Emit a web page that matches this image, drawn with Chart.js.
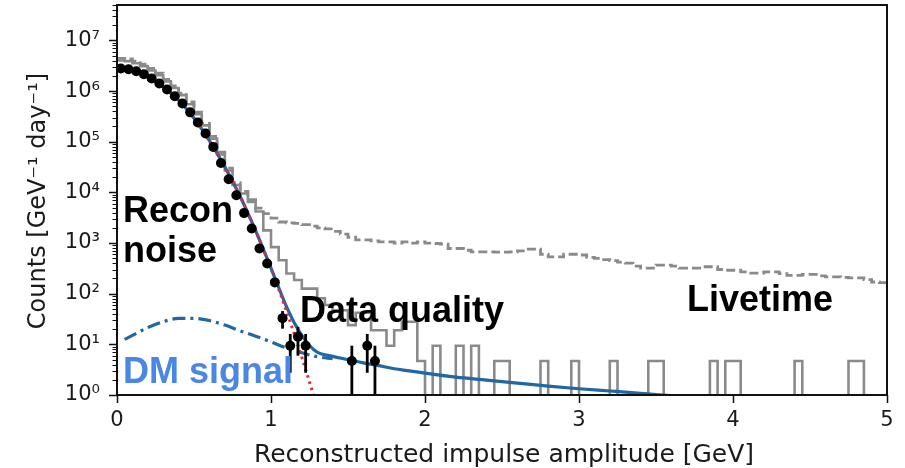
<!DOCTYPE html>
<html>
<head>
<meta charset="utf-8">
<script src="https://cdn.jsdelivr.net/npm/chart.js@4.4.1/dist/chart.umd.min.js"></script>
<style>
  html, body { margin: 0; padding: 0; background: #fff; }
</style>
</head>
<body>
<canvas id="chart" width="905" height="468"></canvas>
<script>
// Histograms use 0.05 GeV bins starting at 0; counts are per GeV per day.
const BIN_WIDTH = 0.05;
const BELOW_AXIS = 0.1; // empty bins drop below the 10^0 floor

// Livetime cut (dashed grey), 100 bins from 0 to 5 GeV
const livetimeHist = [
  4.4e6, 4.3e6, 3.9e6, 3.4e6, 2.8e6, 2.25e6, 1.7e6, 1.27e6, 9.1e5, 6.1e5,
  3.85e5, 2.3e5, 1.27e5, 6.2e4, 3.0e4, 1.55e4, 1.05e4, 7.2e3, 4900, 3800,
  3100, 2600, 2500, 2450, 2300, 2150, 2000, 1900, 1700, 1500,
  1300, 1150, 1150, 1100, 1050, 1050, 1000, 1050, 1000, 1050,
  1000, 980, 950, 780, 780, 720, 670, 670, 670, 660,
  660, 670, 700, 760, 760, 600, 535, 535, 600, 600,
  580, 520, 500, 470, 450, 420, 400, 350, 320, 320,
  365, 365, 350, 320, 320, 320, 340, 340, 300, 290,
  290, 270, 255, 255, 270, 270, 250, 230, 230, 240,
  240, 225, 215, 215, 210, 205, 205, 190, 170, 165
];

// Data quality cut (solid grey), 100 bins from 0 to 5 GeV
const dataQualityHist = [
  4.0e6, 3.9e6, 3.55e6, 3.1e6, 2.55e6, 2.05e6, 1.55e6, 1.15e6, 8.3e5, 5.5e5,
  3.5e5, 2.1e5, 1.15e5, 5.6e4, 2.7e4, 1.4e4, 9.5e3, 6.5e3, 4.2e3, 1780,
  830, 457, 250, 186, 126, 126, 81, 60, 47, 47,
  24, 42, 42, 19, 19, 9.4, 19, 28, 28, 4.7,
  0, 9.4, 0, 0, 9.4, 0, 9.4, 0, 0, 4.7,
  4.7, 0, 0, 0, 0, 4.7, 0, 0, 0, 4.7,
  0, 0, 0, 0, 4.7, 0, 0, 0, 0, 4.7,
  4.7, 0, 0, 0, 0, 0, 0, 4.7, 0, 4.7,
  4.7, 0, 0, 0, 0, 0, 0, 0, 4.7, 0,
  0, 0, 0, 0, 0, 4.7, 4.7, 0, 0, 0
];

// Recon noise cut (black points)
const reconX = [
  0.025, 0.075, 0.125, 0.175, 0.225, 0.275, 0.325, 0.375, 0.425, 0.475,
  0.525, 0.575, 0.625, 0.675, 0.725, 0.775, 0.825, 0.875, 0.925, 0.975,
  1.025, 1.075, 1.125, 1.175, 1.225, 1.525, 1.625, 1.675
];
const reconY = [
  2.78e6, 2.69e6, 2.46e6, 2.14e6, 1.77e6, 1.41e6, 1.07e6, 7.9e5, 5.7e5, 3.8e5,
  2.4e5, 1.45e5, 7.9e4, 3.8e4, 1.82e4, 8.8e3, 3.9e3, 1.94e3, 782, 396,
  167, 32.9, 9.4, 14.1, 9.4, 4.7, 9.4, 4.7
];
// Error bars large enough to show outside the markers
const errX  = [1.075, 1.125, 1.175, 1.225, 1.525, 1.625, 1.675];
const errLo = [20.4, 2.75, 5.97, 2.75, 0, 2.75, 0];
const errHi = [45.4, 16.0, 22.2, 16.0, 9.4, 16.0, 9.4];

// Noise fit (red dotted)
const noiseFitX = [0, 0.1, 0.2, 0.3, 0.4, 0.5, 0.6, 0.7, 0.8, 0.9, 1.0, 1.1, 1.2, 1.25, 1.3];
const noiseFitY = [2.8e6, 2.6e6, 1.9e6, 1.2e6, 6.6e5, 2.9e5, 1.05e5, 3.2e4, 8.3e3, 1.75e3, 310, 46, 5.6, 1.8, 0.58];

// Noise + signal model (blue solid)
const totalX = [0, 0.1, 0.2, 0.3, 0.4, 0.5, 0.6, 0.7, 0.8, 0.9, 1.0, 1.1, 1.15, 1.2, 1.25, 1.3,
  1.4, 1.5, 1.6, 1.7, 1.8, 1.9, 2.0, 2.2, 2.4, 2.6, 2.8, 3.0, 3.2, 3.4, 3.5, 3.6];
const totalY = [2.8e6, 2.6e6, 1.9e6, 1.2e6, 6.6e5, 2.9e5, 1.05e5, 3.2e4, 8.3e3, 1.76e3, 321, 56, 27, 15, 9.5, 7.0,
  5.8, 5.0, 4.3, 3.8, 3.3, 3.0, 2.7, 2.25, 1.97, 1.72, 1.5, 1.33, 1.2, 1.08, 1.02, 0.97];

// DM signal alone (blue dash-dot)
const signalX = [0.05, 0.1, 0.2, 0.3, 0.4, 0.5, 0.6, 0.7, 0.8, 0.9, 1.0, 1.1, 1.2, 1.3, 1.4];
const signalY = [12.5, 15, 21.5, 28, 32.5, 32.5, 29.5, 24, 18.5, 14.5, 11.2, 8.5, 6.8, 5.7, 5.2];

const xTickValues = [0, 1, 2, 3, 4, 5];
const xTickLabels = ['0', '1', '2', '3', '4', '5'];
const yTickValues = [1, 10, 100, 1e3, 1e4, 1e5, 1e6, 1e7];
const yTickLabels = ['10⁰', '10¹', '10²', '10³', '10⁴', '10⁵', '10⁶', '10⁷'];

const AXIS_FONT = 'DejaVu Sans';
const NOTE_FONT = 'bold 36px "Liberation Sans", Arial, sans-serif';

function stepPoints(values) {
  const pts = values.map((v, i) => ({ x: i * BIN_WIDTH, y: v > 0 ? v : BELOW_AXIS }));
  const last = values[values.length - 1];
  pts.push({ x: values.length * BIN_WIDTH, y: last > 0 ? last : BELOW_AXIS });
  return pts;
}

function xyPoints(xs, ys) {
  return xs.map((x, i) => ({ x, y: ys[i] }));
}

// keep the plot box fixed: no extra room reserved for end labels
function fixBox(size) {
  return (scale) => {
    if (scale.isHorizontal()) scale.height = size;
    else scale.width = size;
    scale.paddingTop = 0;
    scale.paddingBottom = 0;
    scale.paddingLeft = 0;
    scale.paddingRight = 0;
  };
}

// frame, tick marks, error bars, axis titles and the in-plot notes
const decorations = {
  id: 'decorations',
  afterDatasetsDraw(chart) {
    const { ctx, chartArea: a, scales: { x, y } } = chart;

    ctx.save();
    ctx.beginPath();
    ctx.rect(a.left, a.top, a.right - a.left, a.bottom - a.top);
    ctx.clip();
    ctx.strokeStyle = '#000';
    ctx.lineWidth = 2.8;
    errX.forEach((ex, i) => {
      const px = x.getPixelForValue(ex);
      ctx.beginPath();
      ctx.moveTo(px, y.getPixelForValue(errLo[i]));
      ctx.lineTo(px, y.getPixelForValue(errHi[i]));
      ctx.stroke();
    });
    ctx.restore();

    ctx.save();
    ctx.strokeStyle = '#111';
    ctx.lineWidth = 2;
    ctx.strokeRect(a.left, a.top, a.right - a.left, a.bottom - a.top);

    ctx.lineWidth = 1.5;
    ctx.beginPath();
    for (const v of yTickValues) {
      const py = Math.round(y.getPixelForValue(v)) + 0.5;
      ctx.moveTo(a.left - 8, py);
      ctx.lineTo(a.left, py);
    }
    for (const v of xTickValues) {
      const px = Math.round(x.getPixelForValue(v)) + 0.5;
      ctx.moveTo(px, a.bottom);
      ctx.lineTo(px, a.bottom + 8);
    }
    ctx.stroke();

    // minor log ticks
    ctx.lineWidth = 1;
    ctx.beginPath();
    for (const decade of yTickValues) {
      for (let m = 2; m <= 9; m++) {
        const v = decade * m;
        if (v > y.max) break;
        const py = Math.round(y.getPixelForValue(v)) + 0.5;
        ctx.moveTo(a.left - 4.5, py);
        ctx.lineTo(a.left, py);
      }
    }
    ctx.stroke();
    ctx.restore();
  },
  afterDraw(chart) {
    const { ctx, chartArea: a } = chart;
    ctx.save();
    ctx.fillStyle = '#1a1a1a';
    ctx.textAlign = 'center';
    ctx.textBaseline = 'alphabetic';
    ctx.font = `25px "${AXIS_FONT}"`;
    ctx.fillText('Reconstructed impulse amplitude [GeV]', (a.left + a.right) / 2 + 2, 462);

    ctx.font = `24px "${AXIS_FONT}"`;
    ctx.translate(45, 201);
    ctx.rotate(-Math.PI / 2);
    ctx.fillText('Counts [GeV⁻¹ day⁻¹]', 0, 0);
    ctx.restore();

    ctx.save();
    ctx.font = NOTE_FONT;
    ctx.textAlign = 'left';
    ctx.textBaseline = 'alphabetic';
    ctx.fillStyle = '#000';
    ctx.fillText('Recon', 123, 222);
    ctx.fillText('noise', 123, 262);
    ctx.fillText('Data quality', 300, 322);
    ctx.fillText('Livetime', 687, 311);
    ctx.fillStyle = '#4a86e4';
    ctx.fillText('DM signal', 123, 383);
    ctx.restore();
  }
};

const GREY = '#8a8a8a';
const BLUE = '#2166a5';

new Chart(document.getElementById('chart'), {
  type: 'line',
  data: {
    datasets: [
      {
        label: 'Recon noise',
        data: xyPoints(reconX, reconY),
        showLine: false,
        pointRadius: 5,
        pointBackgroundColor: '#000',
        pointBorderWidth: 0,
        order: 0,
      },
      {
        label: 'Noise fit',
        data: xyPoints(noiseFitX, noiseFitY),
        borderColor: '#e8283a',
        borderWidth: 3,
        borderDash: [2.5, 4],
        pointRadius: 0,
        cubicInterpolationMode: 'monotone',
        order: 1,
      },
      {
        label: 'Total',
        data: xyPoints(totalX, totalY),
        borderColor: BLUE,
        borderWidth: 3.2,
        pointRadius: 0,
        cubicInterpolationMode: 'monotone',
        order: 2,
      },
      {
        label: 'DM signal',
        data: xyPoints(signalX, signalY),
        borderColor: BLUE,
        borderWidth: 3.2,
        borderDash: [13, 5, 3, 5],
        pointRadius: 0,
        cubicInterpolationMode: 'monotone',
        order: 3,
      },
      {
        label: 'Data quality',
        data: stepPoints(dataQualityHist),
        borderColor: GREY,
        borderWidth: 2.6,
        stepped: 'before',
        pointRadius: 0,
        order: 4,
      },
      {
        label: 'Livetime',
        data: stepPoints(livetimeHist),
        borderColor: GREY,
        borderWidth: 2.8,
        borderDash: [9, 4],
        stepped: 'before',
        pointRadius: 0,
        order: 5,
      },
    ],
  },
  options: {
    responsive: false,
    devicePixelRatio: 1,
    animation: false,
    layout: { padding: { left: 0, right: 18, top: 5, bottom: 0 } },
    plugins: { legend: { display: false }, tooltip: { enabled: false } },
    scales: {
      x: {
        type: 'linear',
        min: 0,
        max: 5,
        grid: { display: false, drawTicks: false },
        border: { display: false },
        afterBuildTicks: (scale) => { scale.ticks = xTickValues.map((v) => ({ value: v })); },
        afterFit: fixBox(73),
        ticks: {
          padding: 13,
          color: '#1a1a1a',
          font: { family: AXIS_FONT, size: 21 },
          callback: (v, i) => xTickLabels[i],
          maxRotation: 0,
        },
      },
      y: {
        type: 'logarithmic',
        min: 1,
        max: 5e7,
        grid: { display: false, drawTicks: false },
        border: { display: false },
        afterBuildTicks: (scale) => { scale.ticks = yTickValues.map((v) => ({ value: v })); },
        afterFit: fixBox(117),
        ticks: {
          padding: 17,
          color: '#1a1a1a',
          font: { family: AXIS_FONT, size: 21 },
          callback: (v, i) => yTickLabels[i],
        },
      },
    },
  },
  plugins: [decorations],
});
</script>
</body>
</html>
